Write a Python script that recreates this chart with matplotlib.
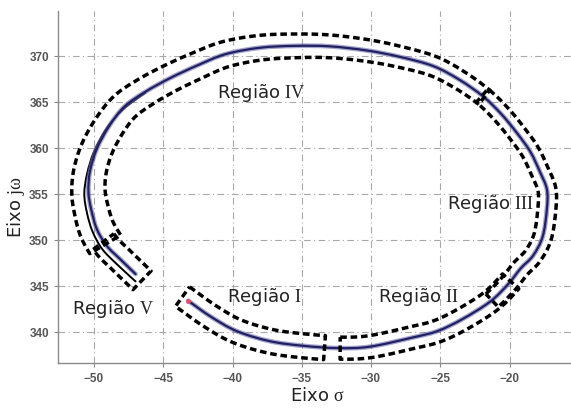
import numpy as np
import matplotlib
matplotlib.use("Agg")
import matplotlib.pyplot as plt
from matplotlib.path import Path
from matplotlib.patches import PathPatch

plt.rcParams['mathtext.fontset'] = 'custom'
plt.rcParams['mathtext.rm'] = 'Liberation Serif'
plt.rcParams['mathtext.it'] = 'Liberation Serif'

# ---- data ----
sigma = [-43.2, -41.6, -39.7, -37.3, -34.9, -32.4, -30.1, -27.0, -25.2, -23.4,
         -21.4, -20.1, -19.2, -18.3, -17.6, -17.3, -17.3, -17.8, -18.5, -19.5,
         -20.6, -21.9, -23.6, -25.5, -27.9, -30.3, -33.0, -35.5, -38.0, -40.5,
         -42.5, -44.5, -46.3, -47.8, -48.9, -49.8, -50.3, -50.4, -50.2, -49.8,
         -49.1, -48.1, -47.0]
omega = [343.4, 341.7, 340.1, 339.0, 338.5, 338.25, 338.4, 339.4, 340.1, 341.4,
         343.3, 345.2, 346.9, 348.3, 350.4, 353.4, 355.5, 357.4, 359.6, 361.7,
         363.7, 365.6, 367.4, 368.9, 369.9, 370.6, 371.05, 371.1, 370.9, 370.2,
         369.0, 367.6, 366.1, 364.5, 362.4, 359.9, 357.4, 355.2, 353.3, 351.2,
         349.4, 347.9, 346.3]

sigma_b = [-46.3, -47.9, -49.1, -50.0, -50.5, -50.7, -50.5, -50.1, -49.4, -48.3, -47.0]
omega_b = [366.0, 364.2, 362.1, 359.6, 357.2, 355.0, 352.9, 350.9, 349.0, 347.3, 345.5]

region_names = ['Região $\\mathrm{I}$', 'Região $\\mathrm{II}$', 'Região $\\mathrm{III}$',
                'Região $\\mathrm{IV}$', 'Região $\\mathrm{V}$']
region_label_x = [-37.65, -26.6, -21.4, -37.9, -48.6]
region_label_y = [343.9, 343.9, 354.0, 366.1, 342.6]
# region extent along the trajectory (fractional point index)
region_start = [0.0, 5.2, 10.3, 21.1, 39.9]
region_end = [4.5, 10.9, 20.9, 39.6, 42.0]

xticks = [-50, -45, -40, -35, -30, -25, -20]
yticks = [340, 345, 350, 355, 360, 365, 370]

# ---- figure ----
fig = plt.figure(figsize=(5.71, 4.10), dpi=100)
ax = fig.add_axes([58/571, 46/410, 513/571, 352/410])
ax.set_xlim(-52.6, -15.56)
ax.set_ylim(336.63, 374.89)

ax.set_xticks(xticks)
ax.set_yticks(yticks)
ax.grid(True, color='#a8a8a8', linewidth=0.8, linestyle=(0, (6, 3, 1, 3)))
for s in ['top', 'right']:
    ax.spines[s].set_visible(False)
for s in ['left', 'bottom']:
    ax.spines[s].set_color('#8a8a8a')
    ax.spines[s].set_linewidth(1.0)
ax.tick_params(colors='#8a8a8a', length=3, labelsize=8.5)
for lab in ax.get_xticklabels() + ax.get_yticklabels():
    lab.set_color('#555555')
    lab.set_fontweight('bold')
    lab.set_family('Liberation Sans')


def bezier_ctrl(xy):
    """Catmull-Rom style cubic Bezier controls through the given points."""
    n = len(xy)
    segs = []
    for i in range(n - 1):
        p0 = xy[max(i - 1, 0)]
        p1 = xy[i]
        p2 = xy[i + 1]
        p3 = xy[min(i + 2, n - 1)]
        segs.append((p1, p1 + (p2 - p0) / 6.0, p2 - (p3 - p1) / 6.0, p2))
    return segs


def smooth_path(xs, ys):
    xy = np.column_stack([xs, ys]).astype(float)
    segs = bezier_ctrl(xy)
    verts = [segs[0][0]]
    codes = [Path.MOVETO]
    for s in segs:
        verts += [s[1], s[2], s[3]]
        codes += [Path.CURVE4] * 3
    return Path(np.array(verts), codes)


def draw_curve(xs, ys, **kw):
    ax.add_patch(PathPatch(smooth_path(xs, ys), fill=False, capstyle='round', **kw))


# trajectory
draw_curve(sigma_b, omega_b, edgecolor='black', linewidth=1.4, zorder=3)
draw_curve(sigma, omega, edgecolor='#6a6ab4', linewidth=3.4, alpha=0.6, zorder=4)
draw_curve(sigma, omega, edgecolor='#22205e', linewidth=1.6, zorder=5)
ax.plot(sigma[0], omega[0], 'o', color='#e0506a', markersize=2.5, zorder=6)

# region bands (dashed outlines around trajectory segments), built in pixel space
P = ax.transData.transform(np.column_stack([sigma, omega]))
SEG = bezier_ctrl(P)
hw_s = [12, 11, 9, 9, 13]
hw_e = [12, 11, 9, 18, 13]
caps = [(7, 4), (4, 6), (6, 4), (4, 6), (3, 9)]


def evalc(t):
    i = min(int(np.floor(t)), len(SEG) - 1)
    u = t - i
    a, b, c, d = SEG[i]
    return ((1 - u) ** 3) * a + 3 * ((1 - u) ** 2) * u * b + 3 * (1 - u) * u * u * c + (u ** 3) * d


for k in range(5):
    t0, t1 = region_start[k], region_end[k]
    ts = np.linspace(t0, t1, int((t1 - t0) * 8) + 2)
    pts = np.array([evalc(t) for t in ts])
    tan = np.gradient(pts, axis=0)
    tan /= np.linalg.norm(tan, axis=1)[:, None]
    pts[0] = pts[0] - tan[0] * caps[k][0]
    pts[-1] = pts[-1] + tan[-1] * caps[k][1]
    nrm = np.column_stack([-tan[:, 1], tan[:, 0]])
    frac = np.linspace(0, 1, len(pts))[:, None]
    hw = hw_s[k] + (hw_e[k] - hw_s[k]) * frac
    outer = pts + nrm * hw
    inner = pts - nrm * hw
    poly = np.vstack([outer, inner[::-1], outer[:1]])
    dpoly = ax.transData.inverted().transform(poly)
    ax.plot(dpoly[:, 0], dpoly[:, 1], color='black', linewidth=2.5,
            linestyle=(0, (1.9, 1.1)), zorder=7)

for name, x, y in zip(region_names, region_label_x, region_label_y):
    ax.text(x, y, name, fontsize=13, family='DejaVu Sans', ha='center', va='center',
            color='#222222', zorder=8)

ax.set_xlabel('Eixo $\\sigma$', fontsize=13, family='DejaVu Sans', color='#222222',
              va='top')
ax.set_ylabel('Eixo $\\mathrm{j}\\omega$', fontsize=13, family='DejaVu Sans', color='#222222')
ax.xaxis.set_label_coords((318 - 58) / 513, -(387 - 364) / 352)
ax.yaxis.set_label_coords(-(58 - 27) / 513, (364 - 207) / 352)

fig.savefig('out.png', dpi=100)
